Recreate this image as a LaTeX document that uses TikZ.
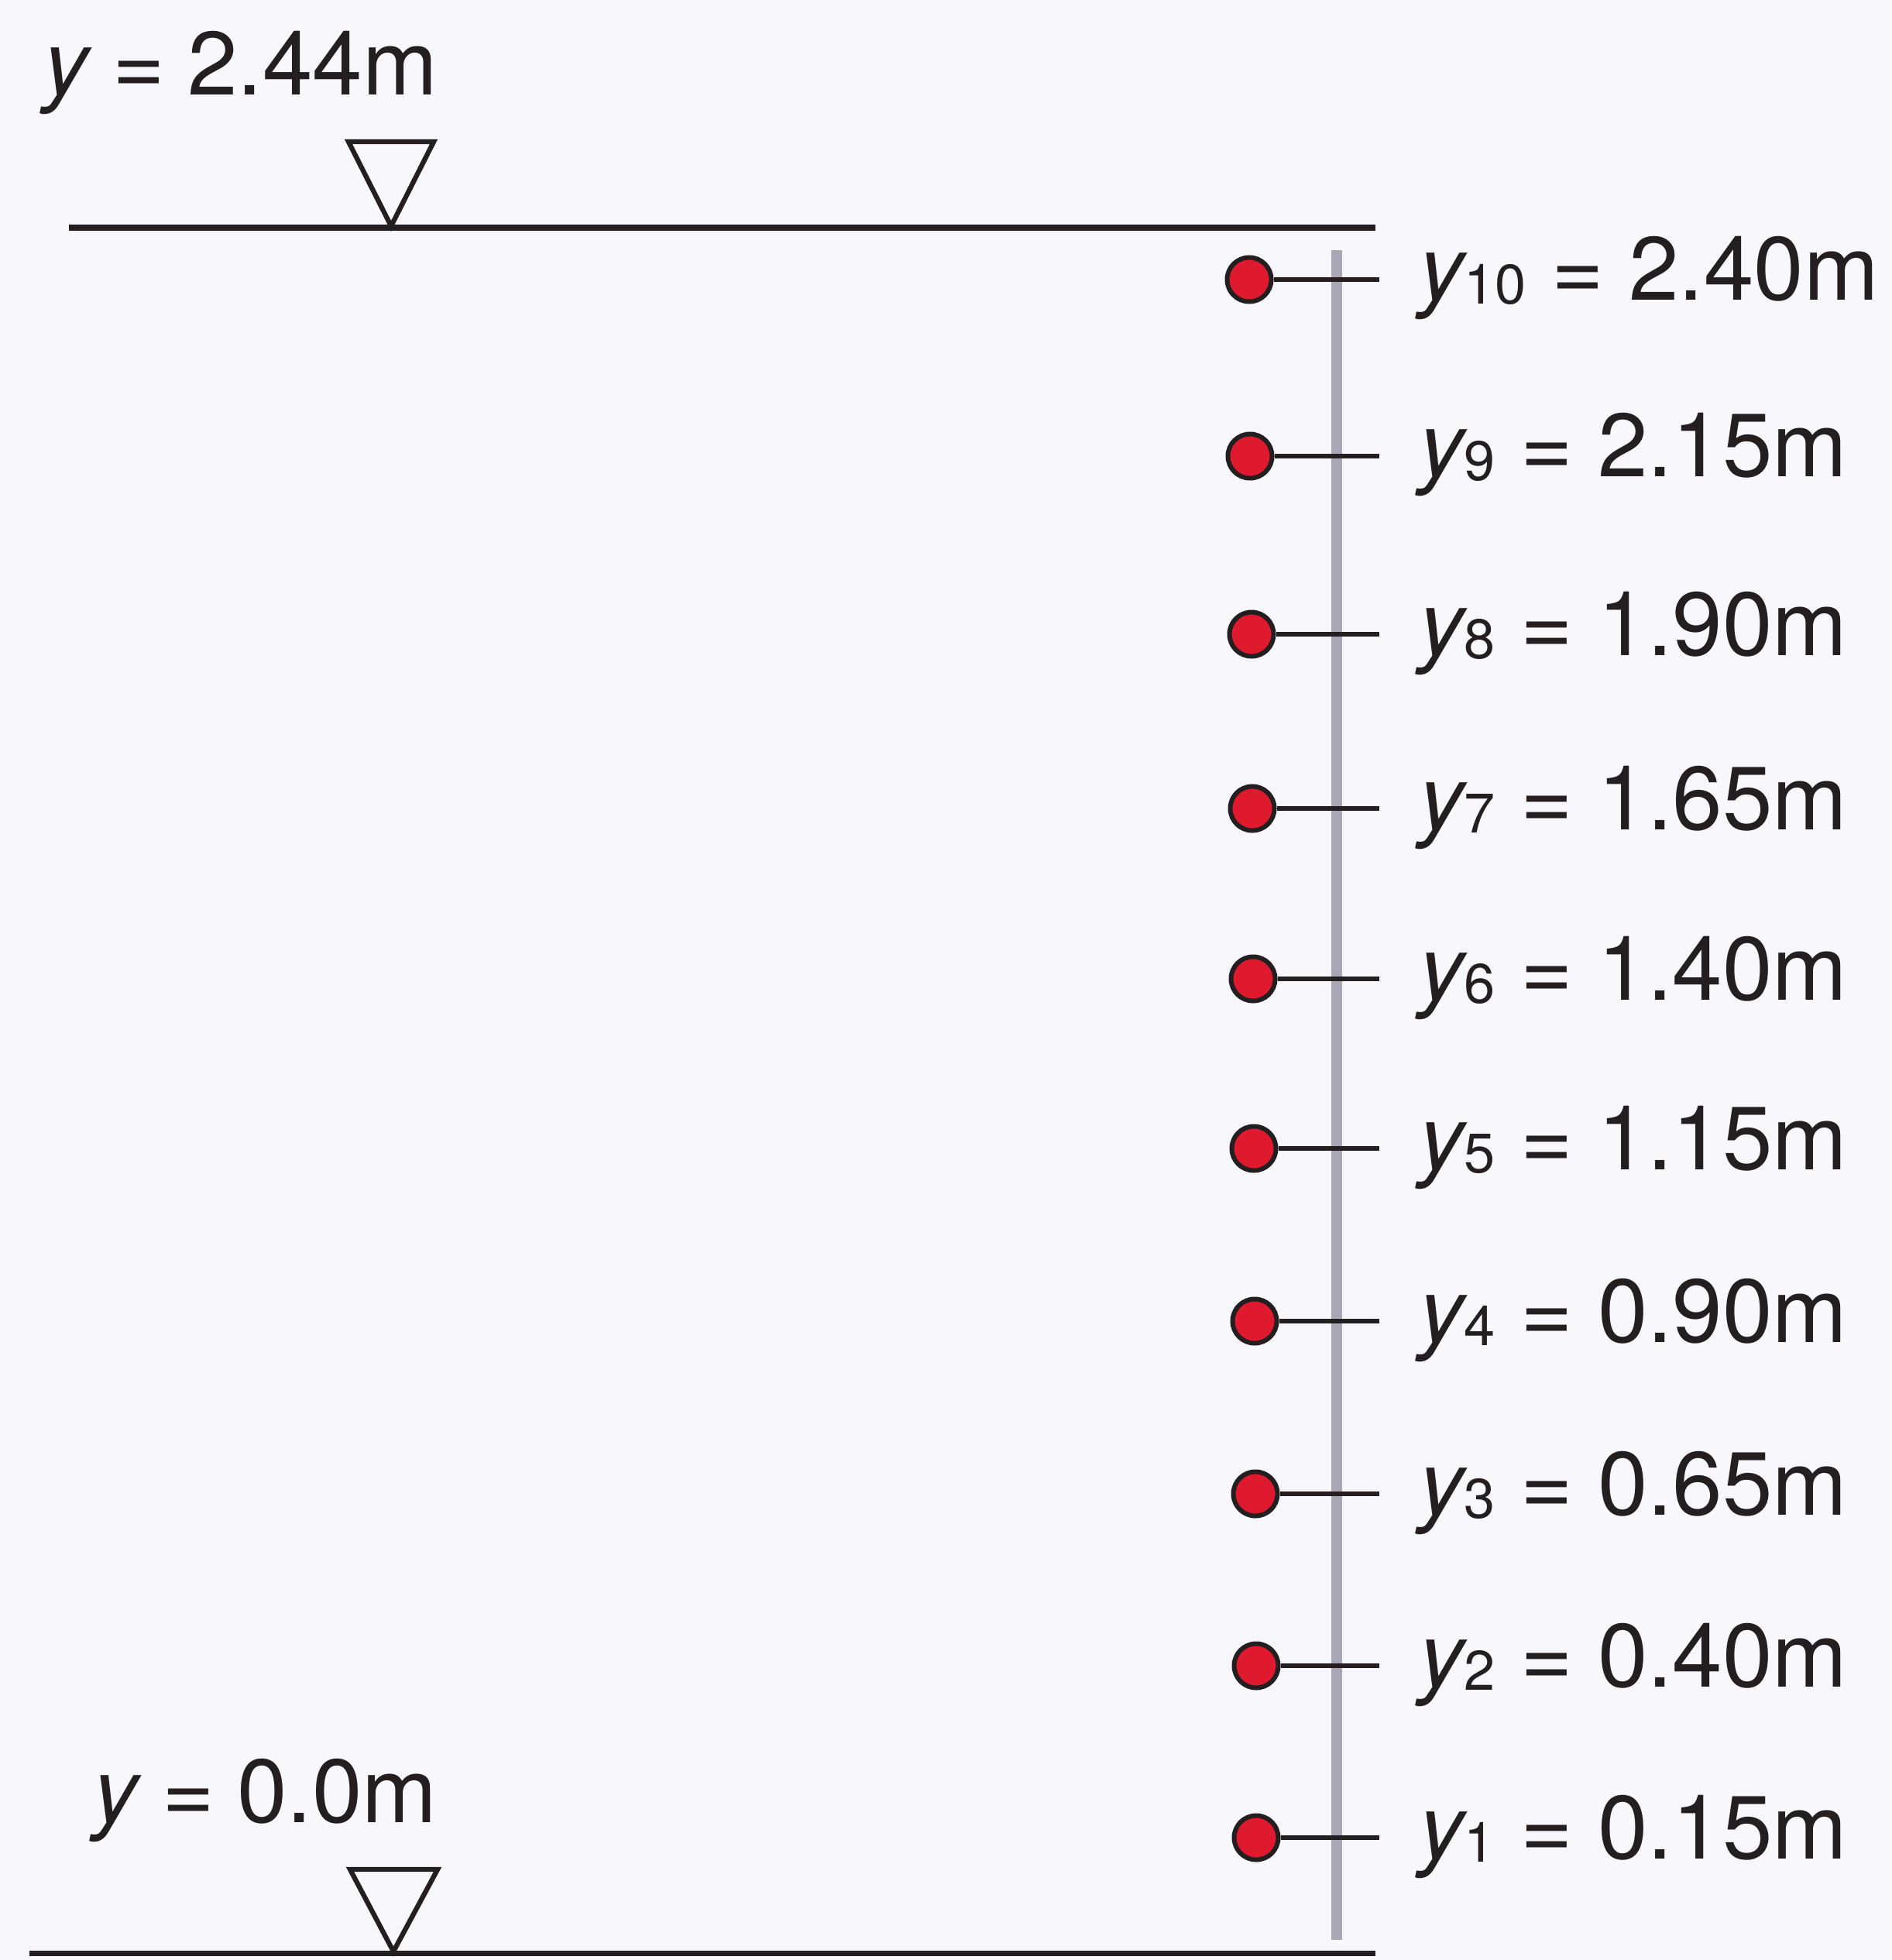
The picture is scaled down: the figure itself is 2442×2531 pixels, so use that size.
\documentclass[tikz,border=0pt]{standalone}
\usepackage{fontspec}
\setmainfont{TeX Gyre Heros}
\definecolor{bgc}{HTML}{F8F8FC}
\definecolor{ink}{HTML}{231F20}
\definecolor{dotred}{HTML}{E01A2E}
\definecolor{barc}{HTML}{A9A6B6}
\newcommand{\ylab}[2]{\textit{y}\kern-0.04em\raisebox{-0.045cm}{\fontsize{20.5}{22}\selectfont #1}\ =\ #2}
\tikzset{
  waterline/.style={draw=ink, line width=2pt},
  tri/.style={draw=ink, line width=1.8pt, line join=miter},
  gauge/.style={draw=barc, line width=4pt},
  probe/.style={circle, draw=ink, fill=dotred, line width=1.7pt, minimum size=0.57cm, inner sep=0pt},
  stem/.style={draw=ink, line width=1.8pt},
  vlabel/.style={anchor=base west, inner sep=0pt, font=\fontsize{33}{36}\selectfont, text=ink},
  levlabel/.style={anchor=base west, inner sep=0pt, font=\fontsize{33}{36}\selectfont, text=ink}
}
\begin{document}
\begin{tikzpicture}[x=0.01cm,y=-0.01cm]
\fill[bgc] (0,0) rectangle (2442,2531);
\useasboundingbox (0,0) rectangle (2442,2531);
% water levels
\coordinate (topL) at (89,294);
\coordinate (topR) at (1776,294);
\coordinate (botL) at (38,2522);
\coordinate (botR) at (1776,2522);
\draw[waterline] (topL) -- (topR);
\draw[waterline] (botL) -- (botR);
\draw[tri] (450,183) -- (560,183) -- (505,292) -- cycle;
\draw[tri] (452,2414) -- (565,2414) -- (508,2520) -- cycle;
\node[levlabel] (ytop) at (56,123) {\textit{y}\kern-0.05em\ =\kern-0.03em\ 2.44m};
\node[levlabel] (ybot) at (120,2353) {\textit{y}\kern-0.05em\ =\kern-0.03em\ 0.0m};
% gauge bar
\coordinate (barT) at (1726,323);
\coordinate (barB) at (1726,2505);
\draw[gauge] (barT) -- (barB);
% probes
\foreach \i/\yy/\xx/\val in {10/361/1613/2.40, 9/589/1614/2.15, 8/819/1616/1.90, 7/1044/1617/1.65, 6/1264/1618/1.40, 5/1483/1619/1.15, 4/1706/1620/0.90, 3/1929/1621/0.65, 2/2151/1622/0.40, 1/2373/1622/0.15}{
  \node[probe] (d\i) at (\xx,\yy) {};
  \coordinate (t\i) at (1781,\yy);
  \draw[stem] (d\i.east) -- (t\i);
  \node[vlabel] (l\i) at (1832,\yy+27) {\ylab{\i}{\val m}};
}
\end{tikzpicture}
\end{document}
